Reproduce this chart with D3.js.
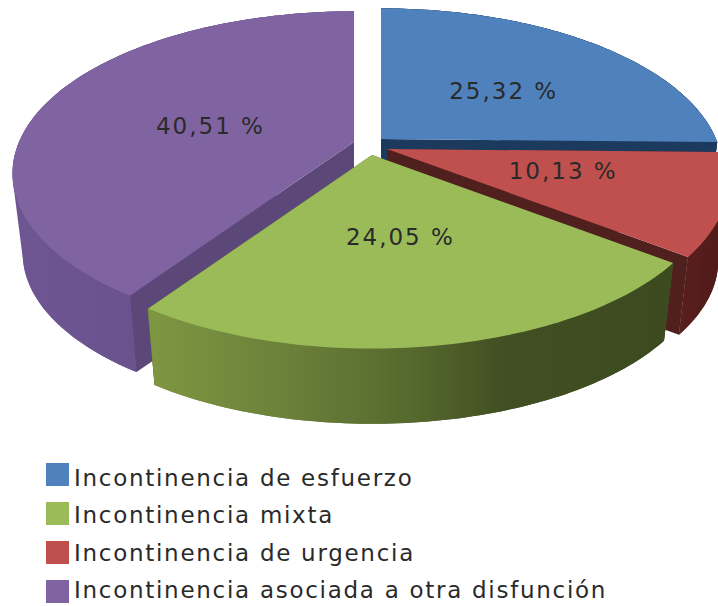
<!DOCTYPE html>
<html>
<head>
<meta charset="utf-8">
<script src="https://cdn.jsdelivr.net/npm/d3@7"></script>
<style>
  html, body { margin: 0; padding: 0; background: #fff; }
  text { font-family: "DejaVu Sans", sans-serif; fill: #2a2a2a; }
</style>
</head>
<body>
<div id="chart"></div>
<script>
const WIDTH = 718
const HEIGHT = 606

// Data, clockwise from the top of the pie
const categories = ["Incontinencia de esfuerzo", "Incontinencia de urgencia", "Incontinencia mixta", "Incontinencia asociada a otra disfunción"];
const values = [25.32, 10.13, 24.05, 40.51];
const legendOrder = ["Incontinencia de esfuerzo", "Incontinencia mixta", "Incontinencia de urgencia", "Incontinencia asociada a otra disfunción"];

// Styles per slice
const topColors = ["#4f81bd", "#c0504d", "#9bbb59", "#8064a2"];
const cutColors = ["#1c3a5e", "#50201e", "#4a5c2a", "#5c4779"];
const wallStops = [
  [["0%", "#1c3a5e"], ["100%", "#1c3a5e"]],
  [["0%", "#5a1f1e"], ["100%", "#4e1b1a"]],
  [["0%", "#7f9742"], ["28%", "#6a7f39"], ["50%", "#56692e"], ["68%", "#414f22"], ["100%", "#3c4a20"]],
  [["0%", "#6e5692"], ["60%", "#674f8b"], ["100%", "#604a80"]]
];

// Where each exploded slice has its apex
const apexX = [381, 387, 372, 354];
const apexY = [139, 149, 155, 142];

// Nudges for the value labels
const labelDx = [17, 23, 1, 3];
const labelDy = [0, -3, 2, 5];

// Perspective of the tilted disc
const RX = 335, RY = 156, PERSP = 0.194;
const DEPTH = 81, SHRINK = 0.97;

const svg = d3.select("#chart")
  .append("svg")
  .attr("width", WIDTH)
  .attr("height", HEIGHT);

const defs = svg.append("defs");

const arcs = d3.pie().sort(null)(values);

// angle (radians, clockwise from top), radius 0-1, lower = bottom face of the slice
function project(i, a, r, lower) {
  const t = -Math.cos(a) * r;
  const k = 1 / (1 - PERSP * t);
  const s = lower ? SHRINK : 1;
  return [
    apexX[i] + RX * Math.sin(a) * r * k * s,
    apexY[i] + RY * t * k * s + (lower ? DEPTH : 0)
  ];
}

const line = d3.line();

function arcPoints(i, d, lower) {
  const n = 80;
  return d3.range(n + 1).map(j => {
    const a = d.startAngle + (d.endAngle - d.startAngle) * j / n;
    return project(i, a, 1, lower);
  });
}

function cutFace(i, a) {
  return line([
    project(i, a, 0, false), project(i, a, 1, false),
    project(i, a, 1, true), project(i, a, 0, true)
  ]) + "Z";
}

// painted back to front: purple, blue, red, green
[3, 0, 1, 2].forEach(i => {
  const d = arcs[i];
  const top = arcPoints(i, d, false);
  const bottom = arcPoints(i, d, true);

  const xs = top.concat(bottom).map(p => p[0]);
  const grad = defs.append("linearGradient")
    .attr("id", "wall" + i)
    .attr("gradientUnits", "userSpaceOnUse")
    .attr("x1", d3.min(xs))
    .attr("x2", d3.max(xs))
    .attr("y1", 0)
    .attr("y2", 0);
  wallStops[i].forEach(s => grad.append("stop").attr("offset", s[0]).attr("stop-color", s[1]));

  const g = svg.append("g").attr("class", "slice");

  // hull closes the silhouette where the wall turns away at the sides
  g.append("path")
    .attr("d", line(d3.polygonHull(top.concat(bottom))) + "Z")
    .attr("fill", "url(#wall" + i + ")");

  g.append("path")
    .attr("d", cutFace(i, d.startAngle))
    .attr("fill", cutColors[i]);
  g.append("path")
    .attr("d", cutFace(i, d.endAngle))
    .attr("fill", cutColors[i]);

  g.append("path")
    .attr("d", line(top.concat(bottom.slice().reverse())) + "Z")
    .attr("fill", "url(#wall" + i + ")");

  g.append("path")
    .attr("d", line([project(i, 0, 0, false)].concat(top)) + "Z")
    .attr("fill", topColors[i]);
});

// value labels on the top faces
const labelFormat = v => v.toFixed(2).replace(".", ",") + " %";

svg.selectAll("text.value")
  .data(arcs)
  .enter()
  .append("text")
  .attr("class", "value")
  .attr("text-anchor", "middle")
  .attr("font-size", 23)
  .attr("letter-spacing", 2)
  .attr("transform", (d, i) => {
    const p = project(i, (d.startAngle + d.endAngle) / 2, 0.47, false);
    return "translate(" + (p[0] + labelDx[i]) + "," + (p[1] + 8 + labelDy[i]) + ")";
  })
  .text(d => labelFormat(d.value));

// legend
const legendY = d3.scalePoint()
  .domain(legendOrder)
  .range([486, 598]);

const swatchY = d3.scalePoint()
  .domain(legendOrder)
  .range([463, 580]);

const legend = svg.selectAll("g.legend")
  .data(legendOrder)
  .enter()
  .append("g")
  .attr("class", "legend");

legend.append("rect")
  .attr("x", 46)
  .attr("y", d => swatchY(d))
  .attr("width", 23)
  .attr("height", 23)
  .attr("fill", d => topColors[categories.indexOf(d)]);

legend.append("text")
  .attr("x", 74)
  .attr("y", d => legendY(d))
  .attr("font-size", 23)
  .attr("letter-spacing", 1.72)
  .text(d => d);
</script>
</body>
</html>
